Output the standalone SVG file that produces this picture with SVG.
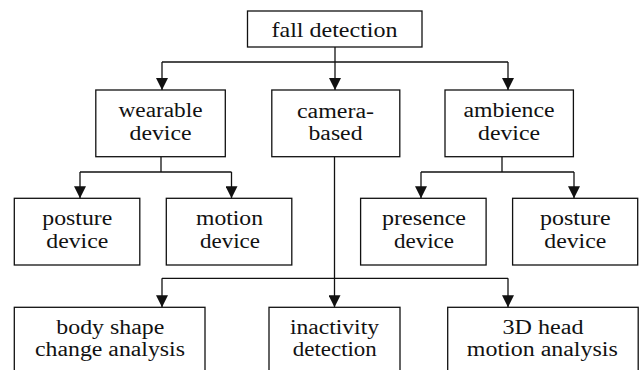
<svg xmlns="http://www.w3.org/2000/svg" width="639" height="370" viewBox="0 0 639 370">
<style>
rect{fill:#fff;stroke:#111;stroke-width:1.3}
text{font-size:20px;fill:#111;text-anchor:middle}
.c{fill:none;stroke:#111;stroke-width:1.3}
</style>
<defs>
<marker id="ah" markerUnits="userSpaceOnUse" markerWidth="12" markerHeight="12" refX="12" refY="6" orient="auto">
<path d="M0,0 L12,6 L0,12 z" fill="#111"/>
</marker>
</defs>
<g id="connectors">
<path class="c" d="M335,47 V62"/>
<path class="c" d="M162,62 H508"/>
<path class="c" d="M162,62 V90" marker-end="url(#ah)"/>
<path class="c" d="M335,62 V90" marker-end="url(#ah)"/>
<path class="c" d="M508,62 V90" marker-end="url(#ah)"/>
<path class="c" d="M161,157 V172"/>
<path class="c" d="M80,172 H231.5"/>
<path class="c" d="M80,172 V198.3" marker-end="url(#ah)"/>
<path class="c" d="M231.5,172 V198.3" marker-end="url(#ah)"/>
<path class="c" d="M502,157 V172"/>
<path class="c" d="M421,172 H574"/>
<path class="c" d="M421,172 V198.3" marker-end="url(#ah)"/>
<path class="c" d="M574,172 V198.3" marker-end="url(#ah)"/>
<path class="c" d="M334.5,157 V307.3" marker-end="url(#ah)"/>
<path class="c" d="M162,278.3 H508"/>
<path class="c" d="M162,278.3 V307.3" marker-end="url(#ah)"/>
<path class="c" d="M508,278.3 V307.3" marker-end="url(#ah)"/>
</g>
<g font-family="Liberation Serif, DejaVu Serif, serif">
<g id="fall-detection">
<rect x="247.5" y="11" width="174.5" height="36"/>
<text x="334.5" y="37" style="font-size:22px" textLength="126" lengthAdjust="spacingAndGlyphs">fall detection</text>
</g>
<g id="wearable-device">
<rect x="95.8" y="90" width="129.5" height="66.7"/>
<text x="160.5" y="116.5" textLength="84" lengthAdjust="spacingAndGlyphs">wearable</text>
<text x="160.5" y="139.5" textLength="62" lengthAdjust="spacingAndGlyphs">device</text>
</g>
<g id="camera-based">
<rect x="271.8" y="90" width="128" height="66.7"/>
<text x="335.5" y="117.5" textLength="77" lengthAdjust="spacingAndGlyphs">camera-</text>
<text x="335.5" y="140" textLength="54" lengthAdjust="spacingAndGlyphs">based</text>
</g>
<g id="ambience-device">
<rect x="445" y="90" width="128.4" height="66.7"/>
<text x="509" y="116.5" textLength="91" lengthAdjust="spacingAndGlyphs">ambience</text>
<text x="509" y="139.5" textLength="62" lengthAdjust="spacingAndGlyphs">device</text>
</g>
<g id="posture-device-1">
<rect x="14.3" y="198.3" width="125.5" height="66.7"/>
<text x="77.3" y="225" textLength="70" lengthAdjust="spacingAndGlyphs">posture</text>
<text x="77.3" y="248" textLength="62" lengthAdjust="spacingAndGlyphs">device</text>
</g>
<g id="motion-device">
<rect x="166.3" y="198.3" width="125.5" height="66.7"/>
<text x="229.5" y="225" textLength="67" lengthAdjust="spacingAndGlyphs">motion</text>
<text x="230" y="248" textLength="60" lengthAdjust="spacingAndGlyphs">device</text>
</g>
<g id="presence-device">
<rect x="360.6" y="198.3" width="125.5" height="66.7"/>
<text x="424" y="225" textLength="84" lengthAdjust="spacingAndGlyphs">presence</text>
<text x="424" y="248" textLength="60" lengthAdjust="spacingAndGlyphs">device</text>
</g>
<g id="posture-device-2">
<rect x="512.6" y="198.3" width="125.1" height="66.7"/>
<text x="575.3" y="225" textLength="70.5" lengthAdjust="spacingAndGlyphs">posture</text>
<text x="575.3" y="248" textLength="62" lengthAdjust="spacingAndGlyphs">device</text>
</g>
<g id="body-shape">
<rect x="14.3" y="307.3" width="190.7" height="80"/>
<text x="110.3" y="333.5" textLength="108" lengthAdjust="spacingAndGlyphs">body shape</text>
<text x="110" y="355.5" textLength="150" lengthAdjust="spacingAndGlyphs">change analysis</text>
</g>
<g id="inactivity-detection">
<rect x="269" y="307.3" width="131" height="80"/>
<text x="334.5" y="333.5" textLength="89" lengthAdjust="spacingAndGlyphs">inactivity</text>
<text x="334.8" y="355.5" textLength="84" lengthAdjust="spacingAndGlyphs">detection</text>
</g>
<g id="head-motion">
<rect x="447.7" y="307.3" width="190.5" height="80"/>
<text x="543" y="333.5" textLength="81" lengthAdjust="spacingAndGlyphs">3D head</text>
<text x="542.3" y="355.5" textLength="151" lengthAdjust="spacingAndGlyphs">motion analysis</text>
</g>
</g>
</svg>
